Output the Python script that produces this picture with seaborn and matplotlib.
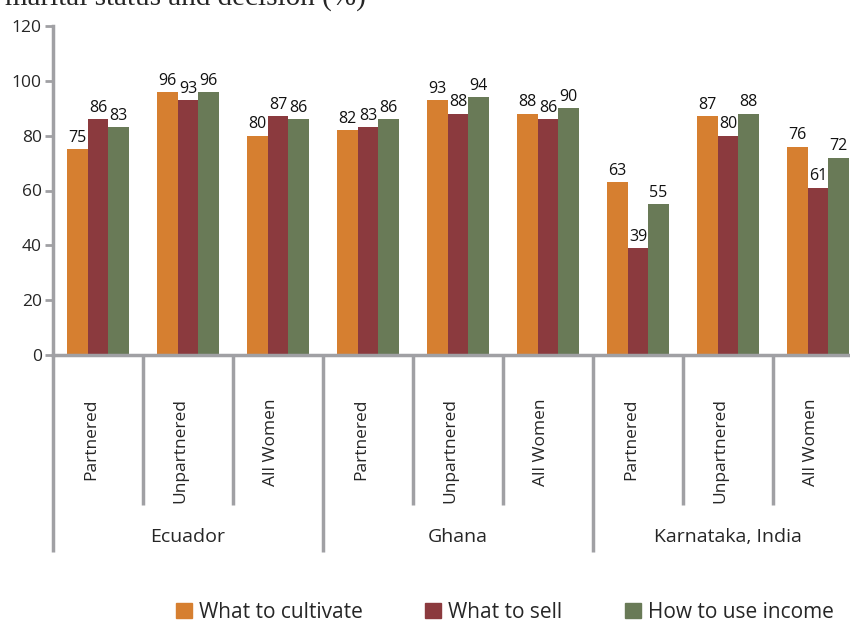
import numpy as np
import pandas as pd
import seaborn as sns
import matplotlib.pyplot as plt

# data
countries = ["Ecuador", "Ghana", "Karnataka, India"]
statuses = ["Partnered", "Unpartnered", "All Women"]
decisions = ["What to cultivate", "What to sell", "How to use income"]
cultivate = [75, 96, 80, 82, 93, 88, 63, 87, 76]
sell = [86, 93, 87, 83, 88, 86, 39, 80, 61]
income = [83, 96, 86, 86, 94, 90, 55, 88, 72]
colors = ["#D67F30", "#8B3A3E", "#697A57"]
yticks = [0, 20, 40, 60, 80, 100, 120]

slots = [f"{c}|{s}" for c in countries for s in statuses]
rows = []
for vals, d in zip([cultivate, sell, income], decisions):
    for slot, v in zip(slots, vals):
        rows.append({"slot": slot, "decision": d, "value": v})
df = pd.DataFrame(rows)

sns.set_style("white")
plt.rcParams["font.family"] = ["Open Sans", "DejaVu Sans"]
gray = "#A0A0A4"

fig = plt.figure(figsize=(8.5, 6.21), dpi=100)
ax = fig.add_axes([53 / 850, 1 - 355 / 621, 810 / 850, 329 / 621])

sns.barplot(data=df, x="slot", y="value", hue="decision", order=slots,
            hue_order=decisions, palette=colors, width=0.68, saturation=1,
            errorbar=None, ax=ax, legend=True, linewidth=0)

# value labels
for cont in ax.containers:
    for bar in cont:
        h = bar.get_height()
        ax.text(bar.get_x() + bar.get_width() / 2, h + 1.2, f"{h:.0f}",
                ha="center", va="bottom", fontsize=11.5, color="#111111")

ax.set_ylim(0, 120)
ax.set_xlim(-0.5, len(slots) - 0.5)
ax.set_yticks(yticks)
ax.set_yticklabels([str(t) for t in yticks], fontsize=12.5)
ax.set_xticks([])
ax.set_xlabel("")
ax.set_ylabel("")
for s in ["top", "right"]:
    ax.spines[s].set_visible(False)
for s in ["left", "bottom"]:
    ax.spines[s].set_color(gray)
    ax.spines[s].set_linewidth(2.5)
ax.tick_params(axis="y", length=6, width=2, color=gray, left=True, pad=2)

# category axis drawn underneath
trans = ax.get_xaxis_transform()
px = 1 / 329  # one pixel in axes-height units
for i in range(len(slots) + 1):
    x = i - 0.5
    long = (i % 3 == 0)
    y_end = -(552 - 355) * px if long else -(505 - 355) * px
    ax.plot([x, x], [0, y_end], color=gray, lw=2.5, transform=trans,
            clip_on=False, solid_capstyle="butt")
for i, slot in enumerate(slots):
    ax.text(i - 0.08, -(398 - 355) * px, slot.split("|")[1], rotation=90,
            ha="center", va="top", fontsize=12.5, transform=trans)
for j, c in enumerate(countries):
    ax.text(3 * j + 1, -(537 - 355) * px, c, ha="center", va="center",
            fontsize=14, transform=trans,
            family=["Liberation Sans Narrow", "Open Sans", "DejaVu Sans"])

# legend at bottom
ax.get_legend().remove()
handles = [plt.Rectangle((0, 0), 1, 1, color=c) for c in colors]
fig.legend(handles, decisions, loc="center", ncol=3,
           bbox_to_anchor=(505 / 850, 1 - 612 / 621), frameon=False,
           fontsize=15, handlelength=0.75, handleheight=0.75,
           handletextpad=0.35, columnspacing=3.0)

# title cut off at the top edge
fig.text(5 / 850, 1 - 5 / 621, "marital status and decision (%)",
         ha="left", va="baseline", fontsize=21,
         family=["Liberation Serif", "DejaVu Serif"])

fig.savefig("out.png", dpi=100)
